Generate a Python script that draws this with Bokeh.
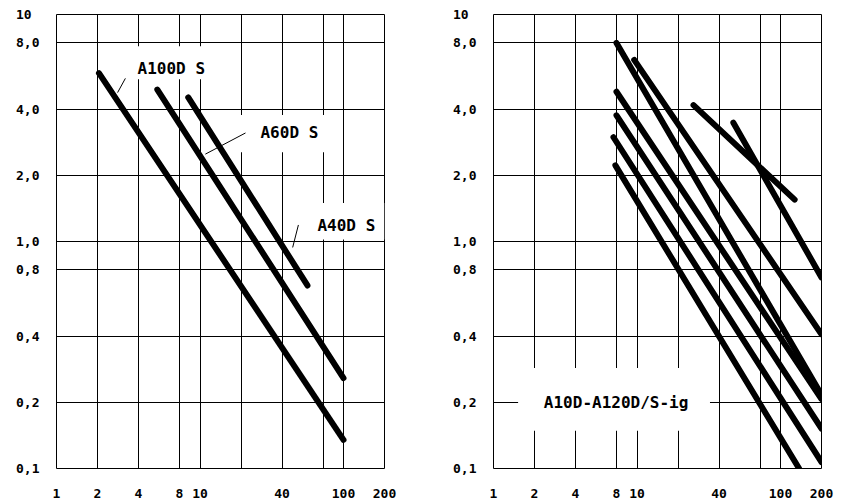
import numpy as np
from bokeh.plotting import figure
from bokeh.layouts import row
from bokeh.models import FixedTicker, Range1d
from bokeh.core.properties import value
from bokeh.embed import file_html
from bokeh.resources import INLINE

# ---------------- data ----------------
x_ticks = [1, 2, 4, 8, 10, 20, 40, 80, 100, 200]
x_tick_labels = ["1", "2", "4", "8", "10", "", "40", "", "100", "200"]
y_ticks = [0.1, 0.2, 0.4, 0.8, 1.0, 2.0, 4.0, 8.0, 10]
y_tick_labels = ["0,1", "0,2", "0,4", "0,8", "1,0", "2,0", "4,0", "8,0", "10\u00a0"]

# left panel curves (start / end points)
left_names = ["A100D S", "A60D S", "A40D S"]
left_x0 = [2.05, 5.5, 8.8]
left_x1 = [100, 100, 61.5]
left_y0 = [5.83, 4.91, 4.52]
left_y1 = [0.135, 0.258, 0.68]

# right panel curves (A10D ... A120D/S-ig)
right_name = "A10D-A120D/S-ig"
right_x0 = [8, 9.7, 8, 8, 7.6, 7.85, 26, 51]
right_x1 = [200, 200, 200, 200, 200, 137, 127, 200]
right_y0 = [8.0, 6.7, 4.8, 3.75, 2.98, 2.22, 4.17, 3.47]
right_y1 = [0.216, 0.408, 0.207, 0.152, 0.107, 0.1, 1.55, 0.74]


# ---------------- chart scale (octave grid with short 8-10 / 80-100 steps) ----------------
def tick_positions(ticks, partial):
    pos = [0.0]
    for a, b in zip(ticks[:-1], ticks[1:]):
        pos.append(pos[-1] + (1.0 if abs(b / a - 2) < 1e-9 else partial))
    return [round(p, 4) for p in pos]


X_POS = tick_positions(x_ticks, 0.5)
Y_POS = tick_positions(y_ticks, 0.43)


def fx(v):
    return np.interp(np.log(np.asarray(v, float)), np.log(x_ticks), X_POS)


def fy(v):
    return np.interp(np.log(np.asarray(v, float)), np.log(y_ticks), Y_POS)


FONT = "DejaVu Sans Mono"


def make_fig(width, bl, br):
    p = figure(width=width, height=500,
               x_range=Range1d(X_POS[0], X_POS[-1]), y_range=Range1d(Y_POS[0], Y_POS[-1]),
               output_backend="svg", toolbar_location=None,
               min_border_left=bl, min_border_right=br, min_border_top=14, min_border_bottom=30)
    p.xaxis.ticker = FixedTicker(ticks=X_POS)
    p.yaxis.ticker = FixedTicker(ticks=Y_POS)
    p.xaxis.major_label_overrides = {k: s for k, s in zip(X_POS, x_tick_labels)}
    p.yaxis.major_label_overrides = {k: s for k, s in zip(Y_POS, y_tick_labels)}
    for ax in (p.xaxis, p.yaxis):
        ax.axis_line_color = None
        ax.major_tick_line_color = None
        ax.minor_tick_line_color = None
        ax.major_label_text_font = FONT
        ax.major_label_text_font_style = "bold"
        ax.major_label_text_font_size = "13px"
        ax.major_label_text_color = "black"
    p.xaxis.major_label_standoff = 14
    p.yaxis.major_label_standoff = 11
    for g in (p.xgrid, p.ygrid):
        g.grid_line_color = "black"
        g.grid_line_alpha = 1.0
        g.grid_line_width = 1
    p.outline_line_color = "black"
    p.outline_line_alpha = 1.0
    p.outline_line_width = 1
    p.background_fill_color = "white"
    p.border_fill_color = "white"
    return p


def add_label(p, text, tx, ty, box, leader=None):
    l, r, b, t = box
    p.quad(left=[l], right=[r], bottom=[b], top=[t], fill_color="white", line_color=None)
    if leader is not None:
        p.segment(x0=[leader[0]], y0=[leader[1]], x1=[leader[2]], y1=[leader[3]],
                  line_color="black", line_width=1)
    p.text(x=[tx], y=[ty], text=[text], text_font=value(FONT), text_font_style="bold",
           text_font_size="16px", text_align="center", text_baseline="middle", text_color="black")


# ---------------- left panel ----------------
p1 = make_fig(437, 56, 53)
add_label(p1, left_names[0], 2.80, 6.045, (1.51, 4.05, 5.88, 6.38), (1.68, 5.895, 1.49, 5.68))
add_label(p1, left_names[1], 5.68, 5.07, (4.39, 6.78, 4.78, 5.34), (4.61, 5.07, 3.63, 4.75))
add_label(p1, left_names[2], 7.07, 3.67, (5.95, 8.0, 3.46, 4.01), (5.90, 3.68, 5.76, 3.34))
p1.segment(x0=fx(left_x0), y0=fy(left_y0), x1=fx(left_x1), y1=fy(left_y1),
           line_color="black", line_width=6, line_cap="round")

# ---------------- right panel ----------------
p2 = make_fig(404, 56, 20)
add_label(p2, right_name, 2.99, 1.0, (0.60, 5.28, 0.57, 1.52))
p2.segment(x0=fx(right_x0), y0=fy(right_y0), x1=fx(right_x1), y1=fy(right_y1),
           line_color="black", line_width=6, line_cap="round")

layout = row(p1, p2)
open("out.html", "w").write(file_html(layout, INLINE))
